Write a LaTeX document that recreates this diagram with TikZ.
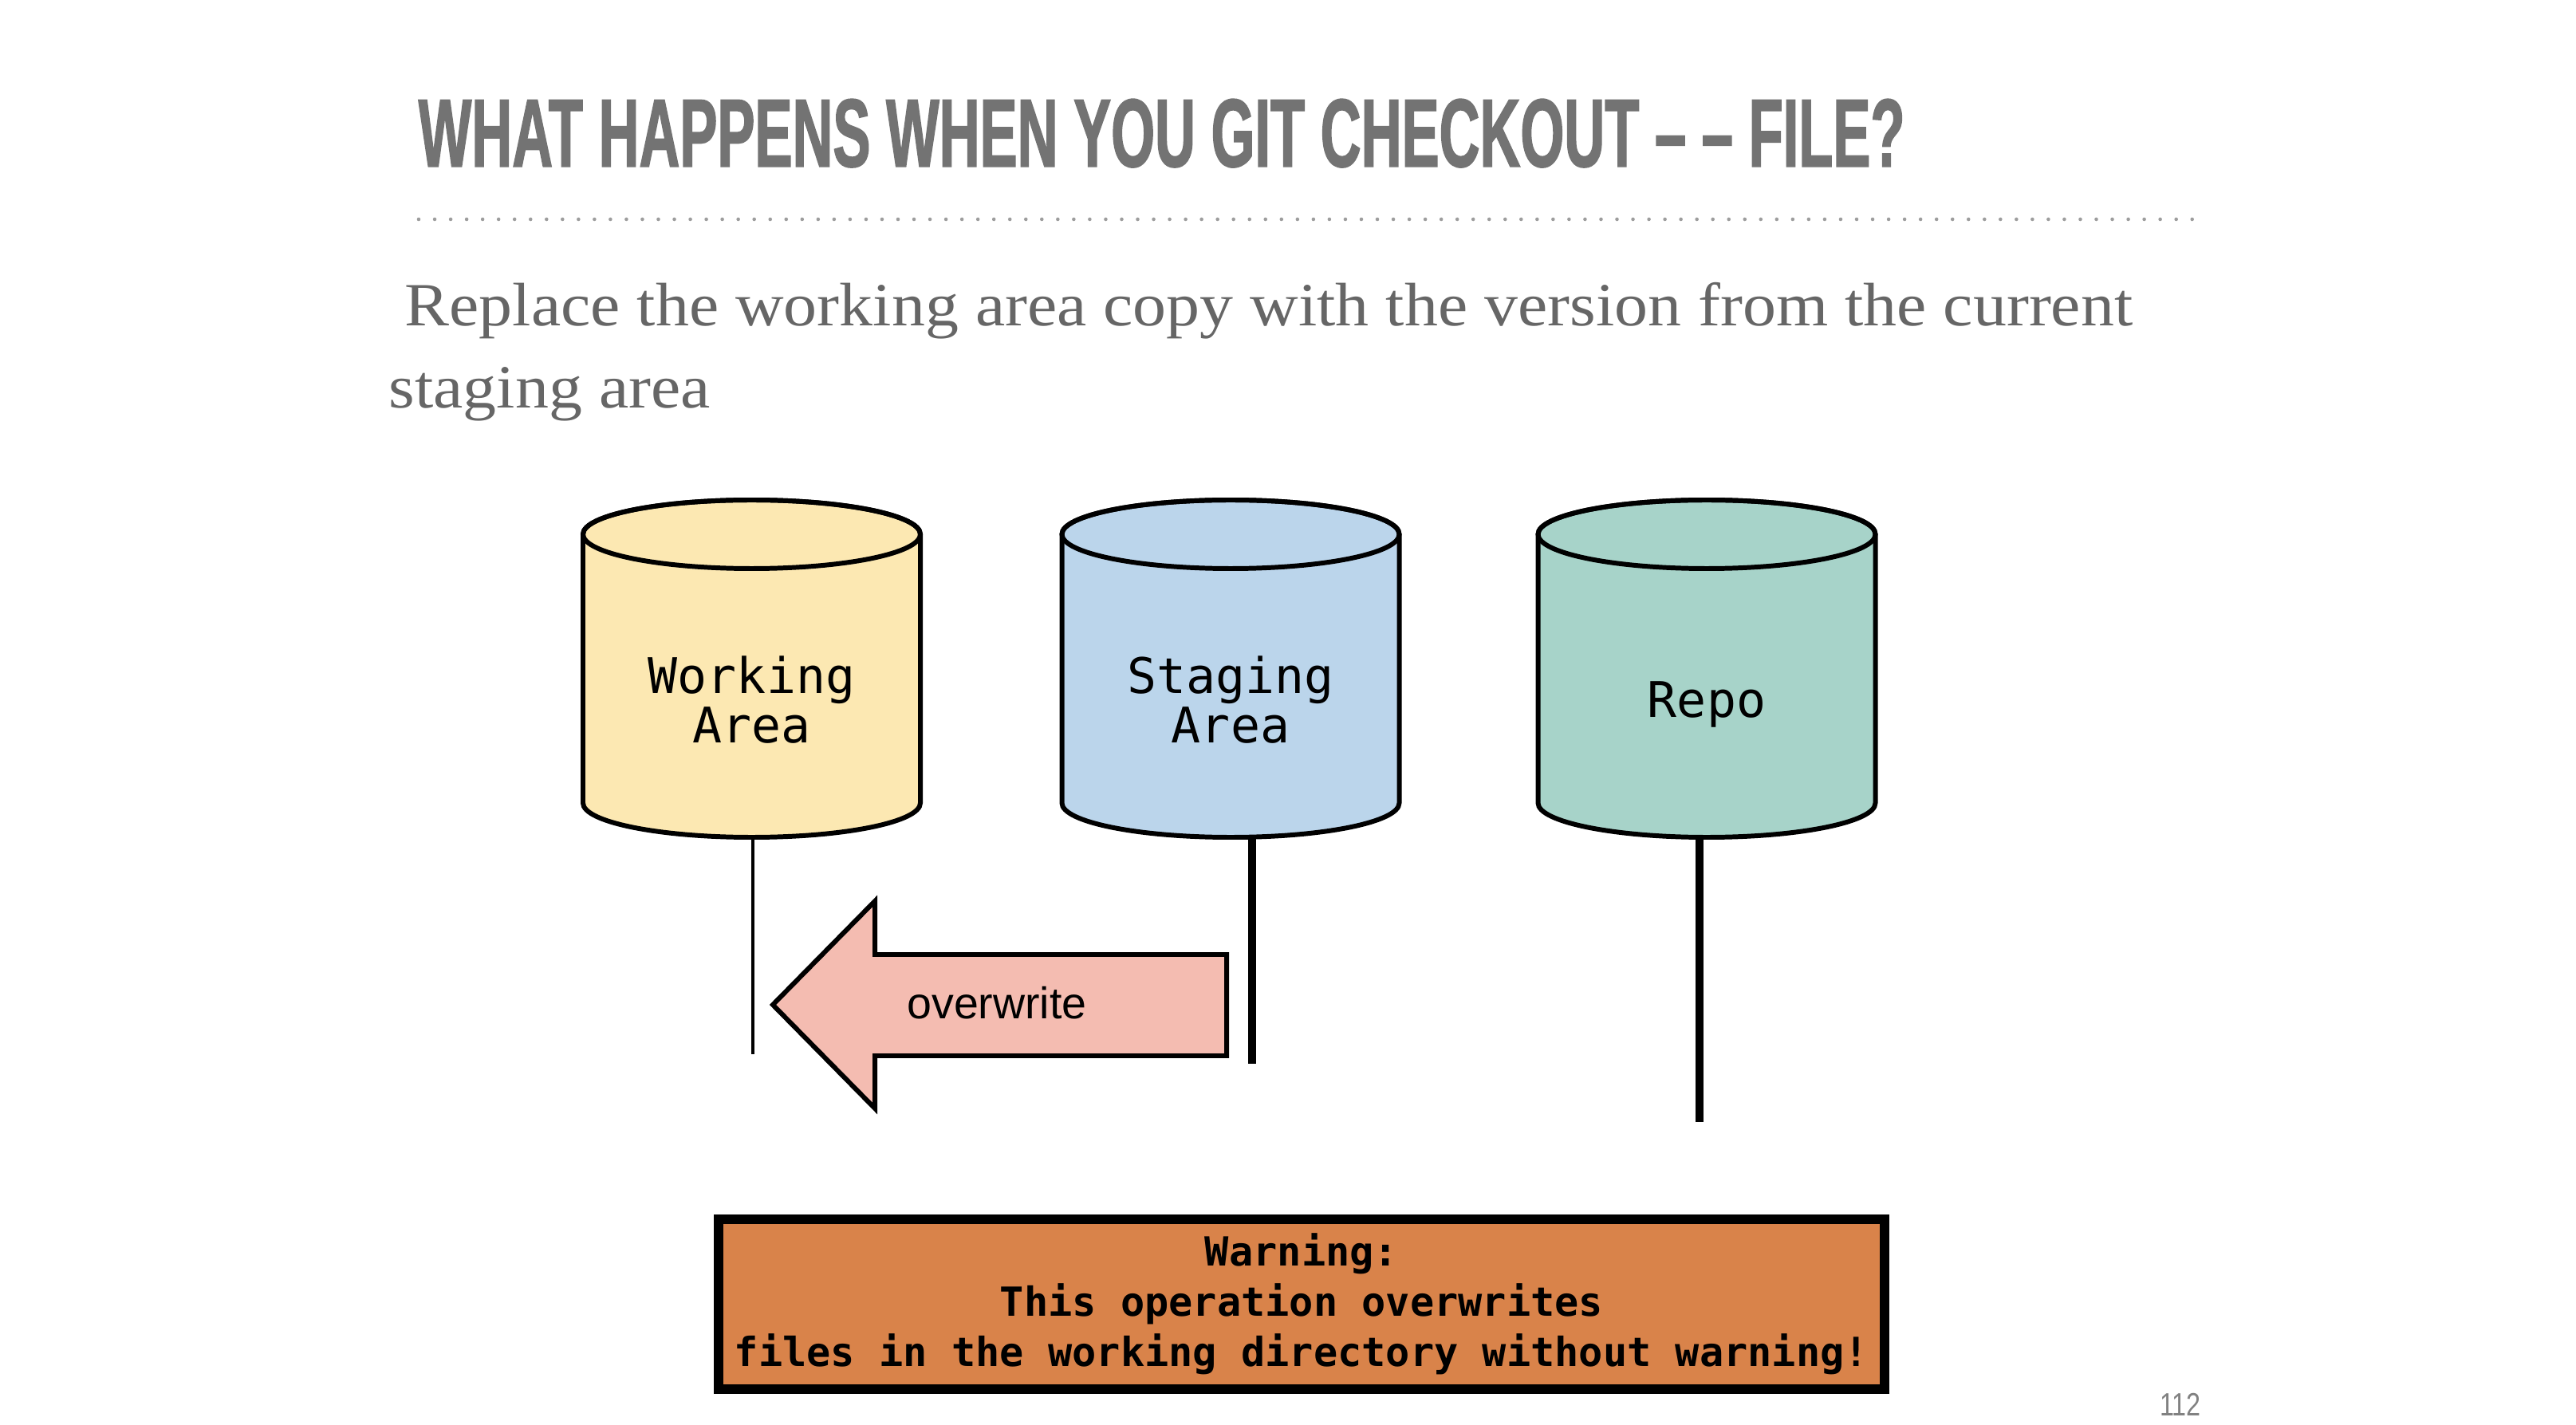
\documentclass[tikz,border=0pt]{standalone}
\usepackage{fontspec}
\usepackage{xcolor}
\usepackage{tikz}
\usetikzlibrary{positioning}
\setmainfont{Liberation Serif}
\newfontfamily\headfont{Liberation Sans}[FakeStretch=0.58,BoldFeatures={FakeBold=1.2}]
\newfontfamily\pagefont{Liberation Sans}[FakeStretch=0.8]
\newfontfamily\leadfont{Liberation Serif}[FakeStretch=1.09]
\newfontfamily\codefont{DejaVu Sans Mono}
\newfontfamily\labelfont{Liberation Sans}
\definecolor{slate}{HTML}{737373}
\definecolor{prose}{HTML}{666666}
\definecolor{workfill}{HTML}{FCE8B2}
\definecolor{stagefill}{HTML}{BBD5EB}
\definecolor{repofill}{HTML}{A7D3C9}
\definecolor{pushfill}{HTML}{F4BCB1}
\definecolor{alarmfill}{HTML}{D9834A}
\tikzset{drum/.style={line width=1.7pt,draw=black},
  drumtext/.style={font=\codefont\fontsize{17.5}{17.6}\selectfont,align=center,text depth=0pt},
  push/.style={fill=pushfill,draw=black,line width=1.7pt,line join=miter},
  lead/.style={anchor=base west,inner sep=0pt,text=prose,font=\leadfont\fontsize{21.9}{29}\selectfont},
  dotrule/.style={line width=1.3pt,line cap=round,dash pattern=on 0pt off 5.7pt,draw=slate!70},
  alarm/.style={draw=black,line width=3.4pt,fill=alarmfill,minimum width=14.62cm,minimum height=2.13cm,
    inner sep=0pt,align=center,font=\codefont\bfseries\fontsize{14.3}{18}\selectfont}}
\newcommand{\store}[4]{%
  \begin{scope}[shift={(#1,0)}]
    \filldraw[drum,fill=#3] (-2.115,11.16) -- (-2.115,7.79)
      arc[start angle=180,end angle=360,x radius=2.115,y radius=0.43] -- (2.115,11.16)
      arc[start angle=0,end angle=180,x radius=2.115,y radius=0.43] -- cycle;
    \draw[drum] (0,11.16) ellipse[x radius=2.115,y radius=0.43];
    \node[drumtext] (#2) at (0,9.09) {#4};
  \end{scope}}

\begin{document}
\begin{tikzpicture}
  \useasboundingbox (0,0) rectangle (32.30,17.86);
  % heading
  \node[anchor=base west,inner sep=0pt,text=slate,font=\headfont\bfseries\fontsize{34.6}{40}\selectfont] (title) at (5.24,15.77) {WHAT HAPPENS WHEN YOU GIT CHECKOUT – – FILE?};
  \draw[dotrule] (5.25,15.11) -- (27.60,15.11);
  \node[lead] (lead1) at (5.07,13.77) {Replace the working area copy with the version from the current};
  \node[lead] (lead2) at (4.87,12.74) {staging area};
  % the three areas
  \store{9.425}{work}{workfill}{Working\\Area}
  \store{15.43}{stage}{stagefill}{Staging\\Area}
  \store{21.40}{repo}{repofill}{Repo}
  \coordinate (work-top) at (9.44,7.36);
  \coordinate (work-end) at (9.44,4.64);
  \coordinate (stage-top) at (15.70,7.36);
  \coordinate (stage-end) at (15.70,4.52);
  \coordinate (repo-top) at (21.31,7.36);
  \coordinate (repo-end) at (21.31,3.79);
  \draw[line width=1.4pt] (work-top) -- (work-end);
  \draw[line width=2.8pt] (stage-top) -- (stage-end);
  \draw[line width=2.8pt] (repo-top) -- (repo-end);
  % overwrite arrow
  \draw[push] (9.69,5.26) -- (10.97,6.56) -- (10.97,5.89) -- (15.38,5.89) -- (15.38,4.62)
    -- (10.97,4.62) -- (10.97,3.96) -- cycle;
  \node[font=\labelfont\fontsize{15.8}{18}\selectfont] (over) at (12.50,5.28) {overwrite};
  % warning
  \node[alarm] (warn) at (16.32,1.505) {Warning:\\This operation overwrites\\files in the working directory without warning!};
  \node[anchor=base,inner sep=0pt,text=slate!90,font=\pagefont\fontsize{11.5}{13}\selectfont] (pageno) at (27.34,0.11) {112};
\end{tikzpicture}
\end{document}
